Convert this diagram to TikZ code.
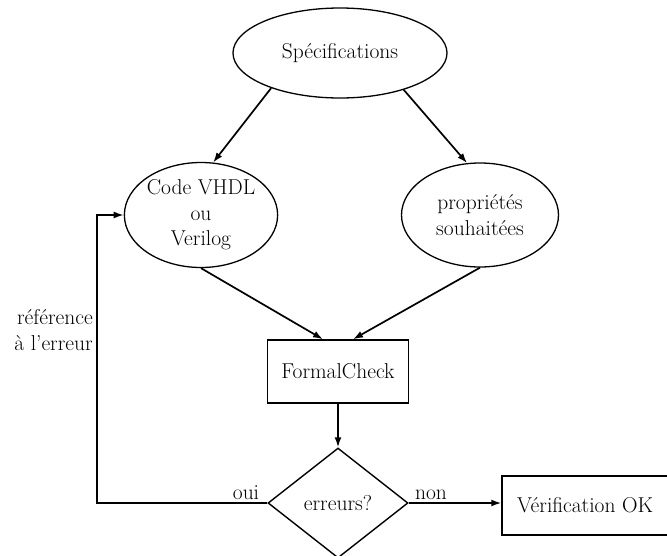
\documentclass[tikz,border=0pt]{standalone}
\usetikzlibrary{shapes.geometric,arrows.meta}
\begin{document}
\begin{tikzpicture}[x=1pt,y=-1pt,
  every node/.style={font=\fontsize{21.5}{25.5}\selectfont},
  ell/.style={draw,ellipse,line width=1.3pt,inner sep=0pt,align=center},
  boxnode/.style={draw,rectangle,line width=1.4pt,inner sep=0pt,align=center},
  decision/.style={draw,diamond,line width=1.4pt,inner sep=0pt,aspect=1.27},
  conn/.style={line width=1.7pt,-{Latex[length=10pt,width=7pt]}},
  lbl/.style={inner sep=1pt}]
\useasboundingbox (0,0) rectangle (667,555);
\node[ell,minimum width=214pt,minimum height=90pt] (spec) at (340,53) {Spécifications};
\node[ell,minimum width=153pt,minimum height=105pt] (code) at (201,215) {Code VHDL\\ou\\Verilog};
\node[ell,minimum width=157pt,minimum height=104pt] (prop) at (480,215) {propriétés\\souhaitées};
\node[boxnode,minimum width=141pt,minimum height=63pt] (fc) at (338,371.5) {FormalCheck};
\node[decision,minimum width=140pt,minimum height=110pt] (err) at (338,503) {erreurs?};
\node[boxnode,minimum width=166pt,minimum height=59pt] (ok) at (585,505.5) {Vérification OK};
\node[lbl,anchor=east,align=right] (ref) at (94,330) {référence\\à l'erreur};
\node[lbl,anchor=south] (oui) at (246,501) {oui};
\node[lbl,anchor=south] (non) at (431,501) {non};
\draw[conn] (spec.207) -- (code.77);
\draw[conn] (spec.330) -- (prop.104);
\draw[conn] (code.south) -- ([xshift=-15pt]fc.north);
\draw[conn] (prop.south) -- ([xshift=15pt]fc.north);
\draw[conn] (fc.south) -- (err.north);
\draw[conn] (err.east) -- (ok.west |- err.east);
\coordinate (corner) at (97,503);
\draw[conn] (err.west) -- (corner) |- (code.west);
\end{tikzpicture}
\end{document}
